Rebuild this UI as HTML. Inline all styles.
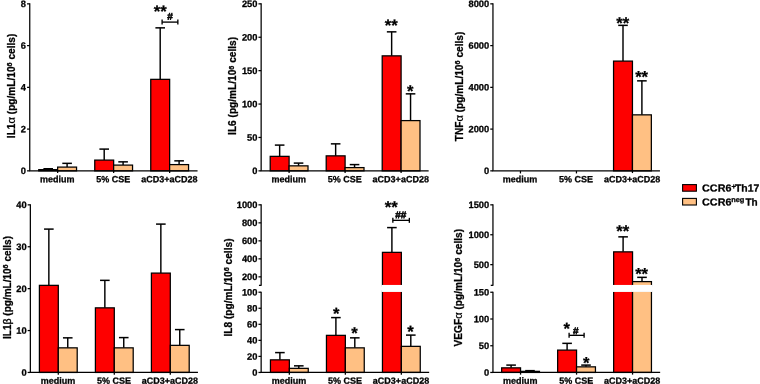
<!DOCTYPE html>
<html><head><meta charset="utf-8"><title>Cytokine production</title>
<style>
html,body{margin:0;padding:0;background:#fff;}
body{width:760px;height:384px;overflow:hidden;}
svg{display:block;font-family:"Liberation Sans",sans-serif;font-weight:bold;fill:#000;will-change:transform;transform:translateZ(0);}
text{stroke:#000;stroke-width:0.28px;stroke-linejoin:round;}
</style></head><body>
<svg width="760" height="384" viewBox="0 0 760 384">
<rect x="0" y="0" width="760" height="384" fill="#fff"/>
<line x1="48.20" y1="169.65" x2="48.20" y2="168.75" stroke="#000" stroke-width="1.45"/>
<line x1="43.40" y1="168.75" x2="53.00" y2="168.75" stroke="#000" stroke-width="1.5"/>
<rect x="38.75" y="169.65" width="18.90" height="1.20" fill="#fe0000" stroke="#000" stroke-width="1.25"/>
<line x1="67.10" y1="167.10" x2="67.10" y2="163.35" stroke="#000" stroke-width="1.45"/>
<line x1="62.30" y1="163.35" x2="71.90" y2="163.35" stroke="#000" stroke-width="1.5"/>
<rect x="57.65" y="167.10" width="18.90" height="3.75" fill="#ffc083" stroke="#000" stroke-width="1.25"/>
<line x1="57.65" y1="170.85" x2="57.65" y2="173.05" stroke="#000" stroke-width="1.25"/>
<line x1="104.20" y1="160.10" x2="104.20" y2="149.10" stroke="#000" stroke-width="1.45"/>
<line x1="99.40" y1="149.10" x2="109.00" y2="149.10" stroke="#000" stroke-width="1.5"/>
<rect x="94.75" y="160.10" width="18.90" height="10.75" fill="#fe0000" stroke="#000" stroke-width="1.25"/>
<line x1="123.10" y1="165.10" x2="123.10" y2="161.85" stroke="#000" stroke-width="1.45"/>
<line x1="118.30" y1="161.85" x2="127.90" y2="161.85" stroke="#000" stroke-width="1.5"/>
<rect x="113.65" y="165.10" width="18.90" height="5.75" fill="#ffc083" stroke="#000" stroke-width="1.25"/>
<line x1="113.65" y1="170.85" x2="113.65" y2="173.05" stroke="#000" stroke-width="1.25"/>
<line x1="160.20" y1="79.35" x2="160.20" y2="27.85" stroke="#000" stroke-width="1.45"/>
<line x1="155.40" y1="27.85" x2="165.00" y2="27.85" stroke="#000" stroke-width="1.5"/>
<rect x="150.75" y="79.35" width="18.90" height="91.50" fill="#fe0000" stroke="#000" stroke-width="1.25"/>
<line x1="179.10" y1="164.60" x2="179.10" y2="160.85" stroke="#000" stroke-width="1.45"/>
<line x1="174.30" y1="160.85" x2="183.90" y2="160.85" stroke="#000" stroke-width="1.5"/>
<rect x="169.65" y="164.60" width="18.90" height="6.25" fill="#ffc083" stroke="#000" stroke-width="1.25"/>
<line x1="169.65" y1="170.85" x2="169.65" y2="173.05" stroke="#000" stroke-width="1.25"/>
<line x1="29.75" y1="3.35" x2="29.75" y2="170.85" stroke="#000" stroke-width="1.25"/>
<line x1="29.20" y1="170.85" x2="197.55" y2="170.85" stroke="#000" stroke-width="1.25"/>
<line x1="27.05" y1="3.85" x2="29.75" y2="3.85" stroke="#000" stroke-width="1.25"/>
<text transform="translate(26.00,7.10) rotate(0.04)" font-size="9.3" text-anchor="end" >8</text>
<line x1="27.05" y1="45.60" x2="29.75" y2="45.60" stroke="#000" stroke-width="1.25"/>
<text transform="translate(26.00,48.85) rotate(0.04)" font-size="9.3" text-anchor="end" >6</text>
<line x1="27.05" y1="87.35" x2="29.75" y2="87.35" stroke="#000" stroke-width="1.25"/>
<text transform="translate(26.00,90.60) rotate(0.04)" font-size="9.3" text-anchor="end" >4</text>
<line x1="27.05" y1="129.10" x2="29.75" y2="129.10" stroke="#000" stroke-width="1.25"/>
<text transform="translate(26.00,132.35) rotate(0.04)" font-size="9.3" text-anchor="end" >2</text>
<line x1="27.05" y1="170.85" x2="29.75" y2="170.85" stroke="#000" stroke-width="1.25"/>
<text transform="translate(26.00,174.10) rotate(0.04)" font-size="9.3" text-anchor="end" >0</text>
<text transform="translate(57.30,182.30) rotate(0.04)" font-size="9" text-anchor="middle" >medium</text>
<text transform="translate(113.30,182.30) rotate(0.04)" font-size="9" text-anchor="middle" >5% CSE</text>
<text transform="translate(169.30,182.30) rotate(0.04)" font-size="9" text-anchor="middle" >aCD3+aCD28</text>
<text transform="translate(14.70,85.90) rotate(-90)" font-size="10.15" text-anchor="middle">IL1<tspan font-weight="normal" font-size="11.2" style="stroke-width:0.2px">α</tspan> (pg/mL/10<tspan font-size="7.3" dy="-2.6">6</tspan><tspan dy="2.6"> cells)</tspan></text>
<text transform="translate(160.30,16.90) rotate(0.04)" font-size="16.6" text-anchor="middle" >**</text>
<line x1="162.10" y1="22.10" x2="177.85" y2="22.10" stroke="#000" stroke-width="1.35"/>
<line x1="162.10" y1="19.60" x2="162.10" y2="24.60" stroke="#000" stroke-width="1.35"/>
<line x1="177.85" y1="19.60" x2="177.85" y2="24.60" stroke="#000" stroke-width="1.35"/>
<text transform="translate(170.00,19.75) rotate(0.04)" font-size="10" text-anchor="middle" style="stroke-width:0.55px">#</text>
<line x1="279.65" y1="156.35" x2="279.65" y2="145.10" stroke="#000" stroke-width="1.45"/>
<line x1="274.85" y1="145.10" x2="284.45" y2="145.10" stroke="#000" stroke-width="1.5"/>
<rect x="270.20" y="156.35" width="18.90" height="14.50" fill="#fe0000" stroke="#000" stroke-width="1.25"/>
<line x1="298.55" y1="165.85" x2="298.55" y2="163.10" stroke="#000" stroke-width="1.45"/>
<line x1="293.75" y1="163.10" x2="303.35" y2="163.10" stroke="#000" stroke-width="1.5"/>
<rect x="289.10" y="165.85" width="18.90" height="5.00" fill="#ffc083" stroke="#000" stroke-width="1.25"/>
<line x1="289.10" y1="170.85" x2="289.10" y2="173.05" stroke="#000" stroke-width="1.25"/>
<line x1="335.65" y1="155.85" x2="335.65" y2="143.85" stroke="#000" stroke-width="1.45"/>
<line x1="330.85" y1="143.85" x2="340.45" y2="143.85" stroke="#000" stroke-width="1.5"/>
<rect x="326.20" y="155.85" width="18.90" height="15.00" fill="#fe0000" stroke="#000" stroke-width="1.25"/>
<line x1="354.55" y1="167.60" x2="354.55" y2="164.60" stroke="#000" stroke-width="1.45"/>
<line x1="349.75" y1="164.60" x2="359.35" y2="164.60" stroke="#000" stroke-width="1.5"/>
<rect x="345.10" y="167.60" width="18.90" height="3.25" fill="#ffc083" stroke="#000" stroke-width="1.25"/>
<line x1="345.10" y1="170.85" x2="345.10" y2="173.05" stroke="#000" stroke-width="1.25"/>
<line x1="391.65" y1="55.85" x2="391.65" y2="31.85" stroke="#000" stroke-width="1.45"/>
<line x1="386.85" y1="31.85" x2="396.45" y2="31.85" stroke="#000" stroke-width="1.5"/>
<rect x="382.20" y="55.85" width="18.90" height="115.00" fill="#fe0000" stroke="#000" stroke-width="1.25"/>
<line x1="410.55" y1="120.60" x2="410.55" y2="93.85" stroke="#000" stroke-width="1.45"/>
<line x1="405.75" y1="93.85" x2="415.35" y2="93.85" stroke="#000" stroke-width="1.5"/>
<rect x="401.10" y="120.60" width="18.90" height="50.25" fill="#ffc083" stroke="#000" stroke-width="1.25"/>
<line x1="401.10" y1="170.85" x2="401.10" y2="173.05" stroke="#000" stroke-width="1.25"/>
<line x1="261.15" y1="3.35" x2="261.15" y2="170.85" stroke="#000" stroke-width="1.25"/>
<line x1="260.60" y1="170.85" x2="428.65" y2="170.85" stroke="#000" stroke-width="1.25"/>
<line x1="258.45" y1="3.85" x2="261.15" y2="3.85" stroke="#000" stroke-width="1.25"/>
<text transform="translate(257.40,7.10) rotate(0.04)" font-size="9.3" text-anchor="end" >250</text>
<line x1="258.45" y1="37.25" x2="261.15" y2="37.25" stroke="#000" stroke-width="1.25"/>
<text transform="translate(257.40,40.50) rotate(0.04)" font-size="9.3" text-anchor="end" >200</text>
<line x1="258.45" y1="70.65" x2="261.15" y2="70.65" stroke="#000" stroke-width="1.25"/>
<text transform="translate(257.40,73.90) rotate(0.04)" font-size="9.3" text-anchor="end" >150</text>
<line x1="258.45" y1="104.05" x2="261.15" y2="104.05" stroke="#000" stroke-width="1.25"/>
<text transform="translate(257.40,107.30) rotate(0.04)" font-size="9.3" text-anchor="end" >100</text>
<line x1="258.45" y1="137.45" x2="261.15" y2="137.45" stroke="#000" stroke-width="1.25"/>
<text transform="translate(257.40,140.70) rotate(0.04)" font-size="9.3" text-anchor="end" >50</text>
<line x1="258.45" y1="170.85" x2="261.15" y2="170.85" stroke="#000" stroke-width="1.25"/>
<text transform="translate(257.40,174.10) rotate(0.04)" font-size="9.3" text-anchor="end" >0</text>
<text transform="translate(288.75,182.30) rotate(0.04)" font-size="9" text-anchor="middle" >medium</text>
<text transform="translate(344.75,182.30) rotate(0.04)" font-size="9" text-anchor="middle" >5% CSE</text>
<text transform="translate(400.75,182.30) rotate(0.04)" font-size="9" text-anchor="middle" >aCD3+aCD28</text>
<text transform="translate(236.20,85.90) rotate(-90)" font-size="10.15" text-anchor="middle">IL6 (pg/mL/10<tspan font-size="7.3" dy="-2.6">6</tspan><tspan dy="2.6"> cells)</tspan></text>
<text transform="translate(391.30,31.00) rotate(0.04)" font-size="16.6" text-anchor="middle" >**</text>
<text transform="translate(410.20,96.70) rotate(0.04)" font-size="16.6" text-anchor="middle" >*</text>
<line x1="520.45" y1="170.85" x2="520.45" y2="173.45" stroke="#000" stroke-width="1.25"/>
<line x1="576.45" y1="170.85" x2="576.45" y2="173.45" stroke="#000" stroke-width="1.25"/>
<line x1="623.00" y1="61.10" x2="623.00" y2="25.35" stroke="#000" stroke-width="1.45"/>
<line x1="618.20" y1="25.35" x2="627.80" y2="25.35" stroke="#000" stroke-width="1.5"/>
<rect x="613.55" y="61.10" width="18.90" height="109.75" fill="#fe0000" stroke="#000" stroke-width="1.25"/>
<line x1="641.90" y1="114.85" x2="641.90" y2="80.85" stroke="#000" stroke-width="1.45"/>
<line x1="637.10" y1="80.85" x2="646.70" y2="80.85" stroke="#000" stroke-width="1.5"/>
<rect x="632.45" y="114.85" width="18.90" height="56.00" fill="#ffc083" stroke="#000" stroke-width="1.25"/>
<line x1="632.45" y1="170.85" x2="632.45" y2="173.05" stroke="#000" stroke-width="1.25"/>
<line x1="492.95" y1="3.35" x2="492.95" y2="170.85" stroke="#000" stroke-width="1.25"/>
<line x1="492.40" y1="170.85" x2="659.95" y2="170.85" stroke="#000" stroke-width="1.25"/>
<line x1="490.25" y1="3.85" x2="492.95" y2="3.85" stroke="#000" stroke-width="1.25"/>
<text transform="translate(489.20,7.10) rotate(0.04)" font-size="9.3" text-anchor="end" >8000</text>
<line x1="490.25" y1="45.60" x2="492.95" y2="45.60" stroke="#000" stroke-width="1.25"/>
<text transform="translate(489.20,48.85) rotate(0.04)" font-size="9.3" text-anchor="end" >6000</text>
<line x1="490.25" y1="87.35" x2="492.95" y2="87.35" stroke="#000" stroke-width="1.25"/>
<text transform="translate(489.20,90.60) rotate(0.04)" font-size="9.3" text-anchor="end" >4000</text>
<line x1="490.25" y1="129.10" x2="492.95" y2="129.10" stroke="#000" stroke-width="1.25"/>
<text transform="translate(489.20,132.35) rotate(0.04)" font-size="9.3" text-anchor="end" >2000</text>
<line x1="490.25" y1="170.85" x2="492.95" y2="170.85" stroke="#000" stroke-width="1.25"/>
<text transform="translate(489.20,174.10) rotate(0.04)" font-size="9.3" text-anchor="end" >0</text>
<text transform="translate(520.10,182.30) rotate(0.04)" font-size="9" text-anchor="middle" >medium</text>
<text transform="translate(576.10,182.30) rotate(0.04)" font-size="9" text-anchor="middle" >5% CSE</text>
<text transform="translate(632.10,182.30) rotate(0.04)" font-size="9" text-anchor="middle" >aCD3+aCD28</text>
<text transform="translate(462.70,86.50) rotate(-90)" font-size="10.15" text-anchor="middle">TNF<tspan font-weight="normal" font-size="11.2" style="stroke-width:0.2px">α</tspan> (pg/mL/10<tspan font-size="7.3" dy="-2.6">6</tspan><tspan dy="2.6"> cells)</tspan></text>
<text transform="translate(622.80,28.70) rotate(0.04)" font-size="16.6" text-anchor="middle" >**</text>
<text transform="translate(641.60,82.45) rotate(0.04)" font-size="16.6" text-anchor="middle" >**</text>
<line x1="48.85" y1="285.35" x2="48.85" y2="229.10" stroke="#000" stroke-width="1.45"/>
<line x1="44.05" y1="229.10" x2="53.65" y2="229.10" stroke="#000" stroke-width="1.5"/>
<rect x="39.40" y="285.35" width="18.90" height="87.10" fill="#fe0000" stroke="#000" stroke-width="1.25"/>
<line x1="67.75" y1="347.85" x2="67.75" y2="337.85" stroke="#000" stroke-width="1.45"/>
<line x1="62.95" y1="337.85" x2="72.55" y2="337.85" stroke="#000" stroke-width="1.5"/>
<rect x="58.30" y="347.85" width="18.90" height="24.60" fill="#ffc083" stroke="#000" stroke-width="1.25"/>
<line x1="58.30" y1="372.45" x2="58.30" y2="374.65" stroke="#000" stroke-width="1.25"/>
<line x1="104.85" y1="307.85" x2="104.85" y2="280.35" stroke="#000" stroke-width="1.45"/>
<line x1="100.05" y1="280.35" x2="109.65" y2="280.35" stroke="#000" stroke-width="1.5"/>
<rect x="95.40" y="307.85" width="18.90" height="64.60" fill="#fe0000" stroke="#000" stroke-width="1.25"/>
<line x1="123.75" y1="347.85" x2="123.75" y2="337.60" stroke="#000" stroke-width="1.45"/>
<line x1="118.95" y1="337.60" x2="128.55" y2="337.60" stroke="#000" stroke-width="1.5"/>
<rect x="114.30" y="347.85" width="18.90" height="24.60" fill="#ffc083" stroke="#000" stroke-width="1.25"/>
<line x1="114.30" y1="372.45" x2="114.30" y2="374.65" stroke="#000" stroke-width="1.25"/>
<line x1="160.85" y1="273.10" x2="160.85" y2="224.10" stroke="#000" stroke-width="1.45"/>
<line x1="156.05" y1="224.10" x2="165.65" y2="224.10" stroke="#000" stroke-width="1.5"/>
<rect x="151.40" y="273.10" width="18.90" height="99.35" fill="#fe0000" stroke="#000" stroke-width="1.25"/>
<line x1="179.75" y1="345.35" x2="179.75" y2="329.60" stroke="#000" stroke-width="1.45"/>
<line x1="174.95" y1="329.60" x2="184.55" y2="329.60" stroke="#000" stroke-width="1.5"/>
<rect x="170.30" y="345.35" width="18.90" height="27.10" fill="#ffc083" stroke="#000" stroke-width="1.25"/>
<line x1="170.30" y1="372.45" x2="170.30" y2="374.65" stroke="#000" stroke-width="1.25"/>
<line x1="30.35" y1="204.15" x2="30.35" y2="372.45" stroke="#000" stroke-width="1.25"/>
<line x1="29.80" y1="372.45" x2="197.95" y2="372.45" stroke="#000" stroke-width="1.25"/>
<line x1="27.65" y1="204.85" x2="30.35" y2="204.85" stroke="#000" stroke-width="1.25"/>
<text transform="translate(26.60,208.10) rotate(0.04)" font-size="9.3" text-anchor="end" >40</text>
<line x1="27.65" y1="246.75" x2="30.35" y2="246.75" stroke="#000" stroke-width="1.25"/>
<text transform="translate(26.60,250.00) rotate(0.04)" font-size="9.3" text-anchor="end" >30</text>
<line x1="27.65" y1="288.65" x2="30.35" y2="288.65" stroke="#000" stroke-width="1.25"/>
<text transform="translate(26.60,291.90) rotate(0.04)" font-size="9.3" text-anchor="end" >20</text>
<line x1="27.65" y1="330.55" x2="30.35" y2="330.55" stroke="#000" stroke-width="1.25"/>
<text transform="translate(26.60,333.80) rotate(0.04)" font-size="9.3" text-anchor="end" >10</text>
<line x1="27.65" y1="372.45" x2="30.35" y2="372.45" stroke="#000" stroke-width="1.25"/>
<text transform="translate(26.60,375.70) rotate(0.04)" font-size="9.3" text-anchor="end" >0</text>
<text transform="translate(57.95,383.80) rotate(0.04)" font-size="9" text-anchor="middle" >medium</text>
<text transform="translate(113.95,383.80) rotate(0.04)" font-size="9" text-anchor="middle" >5% CSE</text>
<text transform="translate(169.95,383.80) rotate(0.04)" font-size="9" text-anchor="middle" >aCD3+aCD28</text>
<text transform="translate(10.80,287.50) rotate(-90)" font-size="10.0" text-anchor="middle">IL1<tspan font-weight="normal" font-size="10.6" style="stroke-width:0.35px">β</tspan> (pg/mL/10<tspan font-size="7.3" dy="-2.6">6</tspan><tspan dy="2.6"> cells)</tspan></text>
<line x1="279.90" y1="359.85" x2="279.90" y2="352.60" stroke="#000" stroke-width="1.45"/>
<line x1="275.10" y1="352.60" x2="284.70" y2="352.60" stroke="#000" stroke-width="1.5"/>
<rect x="270.45" y="359.85" width="18.90" height="12.60" fill="#fe0000" stroke="#000" stroke-width="1.25"/>
<line x1="298.80" y1="368.35" x2="298.80" y2="365.85" stroke="#000" stroke-width="1.45"/>
<line x1="294.00" y1="365.85" x2="303.60" y2="365.85" stroke="#000" stroke-width="1.5"/>
<rect x="289.35" y="368.35" width="18.90" height="4.10" fill="#ffc083" stroke="#000" stroke-width="1.25"/>
<line x1="289.35" y1="372.45" x2="289.35" y2="374.65" stroke="#000" stroke-width="1.25"/>
<line x1="335.90" y1="335.35" x2="335.90" y2="317.60" stroke="#000" stroke-width="1.45"/>
<line x1="331.10" y1="317.60" x2="340.70" y2="317.60" stroke="#000" stroke-width="1.5"/>
<rect x="326.45" y="335.35" width="18.90" height="37.10" fill="#fe0000" stroke="#000" stroke-width="1.25"/>
<line x1="354.80" y1="347.85" x2="354.80" y2="337.85" stroke="#000" stroke-width="1.45"/>
<line x1="350.00" y1="337.85" x2="359.60" y2="337.85" stroke="#000" stroke-width="1.5"/>
<rect x="345.35" y="347.85" width="18.90" height="24.60" fill="#ffc083" stroke="#000" stroke-width="1.25"/>
<line x1="345.35" y1="372.45" x2="345.35" y2="374.65" stroke="#000" stroke-width="1.25"/>
<line x1="391.90" y1="252.35" x2="391.90" y2="227.60" stroke="#000" stroke-width="1.45"/>
<line x1="387.10" y1="227.60" x2="396.70" y2="227.60" stroke="#000" stroke-width="1.5"/>
<rect x="382.45" y="252.35" width="18.90" height="33.60" fill="#fe0000" stroke="#000" stroke-width="1.25"/>
<rect x="382.45" y="290.95" width="18.90" height="81.50" fill="#fe0000" stroke="#000" stroke-width="1.25"/>
<rect x="381.45" y="284.95" width="20.90" height="7.00" fill="#fff"/>
<line x1="410.80" y1="346.35" x2="410.80" y2="335.10" stroke="#000" stroke-width="1.45"/>
<line x1="406.00" y1="335.10" x2="415.60" y2="335.10" stroke="#000" stroke-width="1.5"/>
<rect x="401.35" y="346.35" width="18.90" height="26.10" fill="#ffc083" stroke="#000" stroke-width="1.25"/>
<line x1="401.35" y1="372.45" x2="401.35" y2="374.65" stroke="#000" stroke-width="1.25"/>
<line x1="261.15" y1="204.35" x2="261.15" y2="285.65" stroke="#000" stroke-width="1.25"/>
<line x1="261.15" y1="291.65" x2="261.15" y2="372.45" stroke="#000" stroke-width="1.25"/>
<line x1="260.60" y1="372.45" x2="429.15" y2="372.45" stroke="#000" stroke-width="1.25"/>
<line x1="258.45" y1="204.85" x2="261.15" y2="204.85" stroke="#000" stroke-width="1.25"/>
<text transform="translate(257.40,208.10) rotate(0.04)" font-size="9.3" text-anchor="end" >1000</text>
<line x1="258.45" y1="222.85" x2="261.15" y2="222.85" stroke="#000" stroke-width="1.25"/>
<text transform="translate(257.40,226.10) rotate(0.04)" font-size="9.3" text-anchor="end" >800</text>
<line x1="258.45" y1="240.85" x2="261.15" y2="240.85" stroke="#000" stroke-width="1.25"/>
<text transform="translate(257.40,244.10) rotate(0.04)" font-size="9.3" text-anchor="end" >600</text>
<line x1="258.45" y1="258.85" x2="261.15" y2="258.85" stroke="#000" stroke-width="1.25"/>
<text transform="translate(257.40,262.10) rotate(0.04)" font-size="9.3" text-anchor="end" >400</text>
<line x1="258.45" y1="276.85" x2="261.15" y2="276.85" stroke="#000" stroke-width="1.25"/>
<text transform="translate(257.40,280.10) rotate(0.04)" font-size="9.3" text-anchor="end" >200</text>
<line x1="258.45" y1="292.20" x2="261.15" y2="292.20" stroke="#000" stroke-width="1.25"/>
<text transform="translate(257.40,295.45) rotate(0.04)" font-size="9.3" text-anchor="end" >100</text>
<line x1="258.45" y1="308.25" x2="261.15" y2="308.25" stroke="#000" stroke-width="1.25"/>
<text transform="translate(257.40,311.50) rotate(0.04)" font-size="9.3" text-anchor="end" >80</text>
<line x1="258.45" y1="324.30" x2="261.15" y2="324.30" stroke="#000" stroke-width="1.25"/>
<text transform="translate(257.40,327.55) rotate(0.04)" font-size="9.3" text-anchor="end" >60</text>
<line x1="258.45" y1="340.35" x2="261.15" y2="340.35" stroke="#000" stroke-width="1.25"/>
<text transform="translate(257.40,343.60) rotate(0.04)" font-size="9.3" text-anchor="end" >40</text>
<line x1="258.45" y1="356.40" x2="261.15" y2="356.40" stroke="#000" stroke-width="1.25"/>
<text transform="translate(257.40,359.65) rotate(0.04)" font-size="9.3" text-anchor="end" >20</text>
<line x1="258.45" y1="372.45" x2="261.15" y2="372.45" stroke="#000" stroke-width="1.25"/>
<text transform="translate(257.40,375.70) rotate(0.04)" font-size="9.3" text-anchor="end" >0</text>
<line x1="258.95" y1="285.35" x2="261.15" y2="285.35" stroke="#000" stroke-width="1.25"/>
<text transform="translate(289.00,383.80) rotate(0.04)" font-size="9" text-anchor="middle" >medium</text>
<text transform="translate(345.00,383.80) rotate(0.04)" font-size="9" text-anchor="middle" >5% CSE</text>
<text transform="translate(401.00,383.80) rotate(0.04)" font-size="9" text-anchor="middle" >aCD3+aCD28</text>
<text transform="translate(231.60,287.50) rotate(-90)" font-size="10.15" text-anchor="middle">IL8 (pg/mL/10<tspan font-size="7.3" dy="-2.6">6</tspan><tspan dy="2.6"> cells)</tspan></text>
<text transform="translate(336.30,319.20) rotate(0.04)" font-size="16.6" text-anchor="middle" >*</text>
<text transform="translate(354.60,338.70) rotate(0.04)" font-size="16.6" text-anchor="middle" >*</text>
<text transform="translate(391.30,212.70) rotate(0.04)" font-size="16.6" text-anchor="middle" >**</text>
<text transform="translate(410.50,337.20) rotate(0.04)" font-size="16.6" text-anchor="middle" >*</text>
<line x1="392.85" y1="220.35" x2="409.35" y2="220.35" stroke="#000" stroke-width="1.35"/>
<line x1="392.85" y1="217.85" x2="392.85" y2="222.85" stroke="#000" stroke-width="1.35"/>
<line x1="409.35" y1="217.85" x2="409.35" y2="222.85" stroke="#000" stroke-width="1.35"/>
<text transform="translate(400.75,218.15) rotate(0.04)" font-size="10" text-anchor="middle" style="stroke-width:0.55px">##</text>
<line x1="511.10" y1="367.85" x2="511.10" y2="365.10" stroke="#000" stroke-width="1.45"/>
<line x1="506.30" y1="365.10" x2="515.90" y2="365.10" stroke="#000" stroke-width="1.5"/>
<rect x="501.65" y="367.85" width="18.90" height="4.60" fill="#fe0000" stroke="#000" stroke-width="1.25"/>
<line x1="530.00" y1="371.35" x2="530.00" y2="370.65" stroke="#000" stroke-width="1.45"/>
<line x1="525.20" y1="370.65" x2="534.80" y2="370.65" stroke="#000" stroke-width="1.5"/>
<rect x="520.55" y="371.35" width="18.90" height="1.10" fill="#ffc083" stroke="#000" stroke-width="1.25"/>
<line x1="520.55" y1="372.45" x2="520.55" y2="374.65" stroke="#000" stroke-width="1.25"/>
<line x1="567.10" y1="350.10" x2="567.10" y2="343.35" stroke="#000" stroke-width="1.45"/>
<line x1="562.30" y1="343.35" x2="571.90" y2="343.35" stroke="#000" stroke-width="1.5"/>
<rect x="557.65" y="350.10" width="18.90" height="22.35" fill="#fe0000" stroke="#000" stroke-width="1.25"/>
<line x1="586.00" y1="366.85" x2="586.00" y2="365.10" stroke="#000" stroke-width="1.45"/>
<line x1="581.20" y1="365.10" x2="590.80" y2="365.10" stroke="#000" stroke-width="1.5"/>
<rect x="576.55" y="366.85" width="18.90" height="5.60" fill="#ffc083" stroke="#000" stroke-width="1.25"/>
<line x1="576.55" y1="372.45" x2="576.55" y2="374.65" stroke="#000" stroke-width="1.25"/>
<line x1="623.10" y1="251.85" x2="623.10" y2="236.85" stroke="#000" stroke-width="1.45"/>
<line x1="618.30" y1="236.85" x2="627.90" y2="236.85" stroke="#000" stroke-width="1.5"/>
<rect x="613.65" y="251.85" width="18.90" height="34.10" fill="#fe0000" stroke="#000" stroke-width="1.25"/>
<rect x="613.65" y="290.95" width="18.90" height="81.50" fill="#fe0000" stroke="#000" stroke-width="1.25"/>
<rect x="612.65" y="284.95" width="20.90" height="7.00" fill="#fff"/>
<line x1="642.00" y1="281.60" x2="642.00" y2="277.35" stroke="#000" stroke-width="1.45"/>
<line x1="637.20" y1="277.35" x2="646.80" y2="277.35" stroke="#000" stroke-width="1.5"/>
<rect x="632.55" y="281.60" width="18.90" height="4.35" fill="#ffc083" stroke="#000" stroke-width="1.25"/>
<rect x="632.55" y="290.95" width="18.90" height="81.50" fill="#ffc083" stroke="#000" stroke-width="1.25"/>
<rect x="631.55" y="284.95" width="20.90" height="7.00" fill="#fff"/>
<line x1="632.55" y1="372.45" x2="632.55" y2="374.65" stroke="#000" stroke-width="1.25"/>
<line x1="492.95" y1="204.35" x2="492.95" y2="285.65" stroke="#000" stroke-width="1.25"/>
<line x1="492.95" y1="291.65" x2="492.95" y2="372.45" stroke="#000" stroke-width="1.25"/>
<line x1="492.40" y1="372.45" x2="660.15" y2="372.45" stroke="#000" stroke-width="1.25"/>
<line x1="490.25" y1="204.85" x2="492.95" y2="204.85" stroke="#000" stroke-width="1.25"/>
<text transform="translate(489.20,208.10) rotate(0.04)" font-size="9.3" text-anchor="end" >1500</text>
<line x1="490.25" y1="234.75" x2="492.95" y2="234.75" stroke="#000" stroke-width="1.25"/>
<text transform="translate(489.20,238.00) rotate(0.04)" font-size="9.3" text-anchor="end" >1000</text>
<line x1="490.25" y1="264.65" x2="492.95" y2="264.65" stroke="#000" stroke-width="1.25"/>
<text transform="translate(489.20,267.90) rotate(0.04)" font-size="9.3" text-anchor="end" >500</text>
<line x1="490.25" y1="292.25" x2="492.95" y2="292.25" stroke="#000" stroke-width="1.25"/>
<text transform="translate(489.20,295.50) rotate(0.04)" font-size="9.3" text-anchor="end" >150</text>
<line x1="490.25" y1="319.00" x2="492.95" y2="319.00" stroke="#000" stroke-width="1.25"/>
<text transform="translate(489.20,322.25) rotate(0.04)" font-size="9.3" text-anchor="end" >100</text>
<line x1="490.25" y1="345.75" x2="492.95" y2="345.75" stroke="#000" stroke-width="1.25"/>
<text transform="translate(489.20,349.00) rotate(0.04)" font-size="9.3" text-anchor="end" >50</text>
<line x1="490.25" y1="372.45" x2="492.95" y2="372.45" stroke="#000" stroke-width="1.25"/>
<text transform="translate(489.20,375.70) rotate(0.04)" font-size="9.3" text-anchor="end" >0</text>
<line x1="490.75" y1="285.35" x2="492.95" y2="285.35" stroke="#000" stroke-width="1.25"/>
<text transform="translate(520.20,383.80) rotate(0.04)" font-size="9" text-anchor="middle" >medium</text>
<text transform="translate(576.20,383.80) rotate(0.04)" font-size="9" text-anchor="middle" >5% CSE</text>
<text transform="translate(632.20,383.80) rotate(0.04)" font-size="9" text-anchor="middle" >aCD3+aCD28</text>
<text transform="translate(462.20,287.70) rotate(-90)" font-size="10.15" text-anchor="middle">VEGF<tspan font-weight="normal" font-size="11.2" style="stroke-width:0.2px">α</tspan> (pg/mL/10<tspan font-size="7.3" dy="-2.6">6</tspan><tspan dy="2.6"> cells)</tspan></text>
<text transform="translate(566.80,334.20) rotate(0.04)" font-size="16.6" text-anchor="middle" >*</text>
<text transform="translate(586.30,368.45) rotate(0.04)" font-size="16.6" text-anchor="middle" >*</text>
<text transform="translate(622.80,236.70) rotate(0.04)" font-size="16.6" text-anchor="middle" >**</text>
<text transform="translate(641.60,279.45) rotate(0.04)" font-size="16.6" text-anchor="middle" >**</text>
<line x1="569.10" y1="335.35" x2="584.10" y2="335.35" stroke="#000" stroke-width="1.35"/>
<line x1="569.10" y1="332.85" x2="569.10" y2="337.85" stroke="#000" stroke-width="1.35"/>
<line x1="584.10" y1="332.85" x2="584.10" y2="337.85" stroke="#000" stroke-width="1.35"/>
<text transform="translate(575.75,334.15) rotate(0.04)" font-size="10" text-anchor="middle" style="stroke-width:0.55px">#</text>
<rect x="682.60" y="184.60" width="13.80" height="6.60" fill="#fe0000" stroke="#000" stroke-width="1.1"/>
<rect x="682.60" y="198.40" width="13.80" height="6.60" fill="#ffc083" stroke="#000" stroke-width="1.1"/>
<text transform="translate(702.1,191.5) rotate(0.04)" font-size="10.2" textLength="29.3" lengthAdjust="spacingAndGlyphs">CCR6</text>
<text transform="translate(731.4,189.1) rotate(0.04)" font-size="7.6">+</text>
<text transform="translate(735.0,191.5) rotate(0.04)" font-size="10.2" textLength="24.3" lengthAdjust="spacingAndGlyphs">Th17</text>
<text transform="translate(702.1,205.5) rotate(0.04)" font-size="10.2" textLength="29.3" lengthAdjust="spacingAndGlyphs">CCR6</text>
<text transform="translate(731.2,202.1) rotate(0.04)" font-size="7.2" textLength="13.2" lengthAdjust="spacingAndGlyphs">neg</text>
<text transform="translate(745.4,205.5) rotate(0.04)" font-size="10.2" textLength="12.2" lengthAdjust="spacingAndGlyphs">Th</text>
</svg>
</body></html>
